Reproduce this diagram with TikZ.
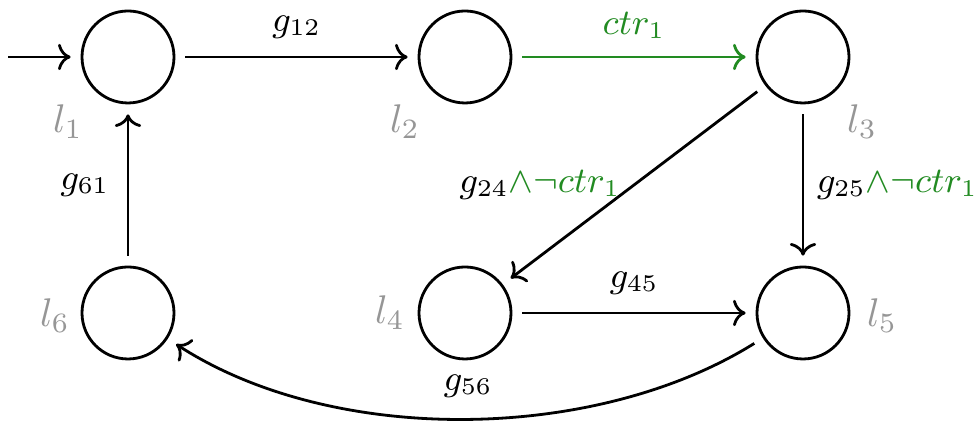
\documentclass[tikz,border=0pt]{standalone}
\usetikzlibrary{arrows.meta}
\definecolor{ctrgreen}{RGB}{34,139,34}
\definecolor{locgray}{RGB}{150,150,150}
\begin{document}
\begin{tikzpicture}[x=0.25pt,y=-0.25pt,
  every node/.style={font=\small},
  loc/.style={circle,draw,line width=0.7pt,minimum size=23pt,inner sep=0pt},
  edge/.style={->,line width=0.7pt,shorten >=2.5pt,shorten <=2.5pt},
  lname/.style={text=locgray,font=\normalsize},
  glabel/.style={}]
\useasboundingbox (0,0) rectangle (976,423);
\node[loc] (l1) at (128,57) {};
\node[loc] (l2) at (465,57) {};
\node[loc] (l3) at (803,57) {};
\node[loc] (l6) at (128,313) {};
\node[loc] (l4) at (465,313) {};
\node[loc] (l5) at (803,313) {};
\node[lname] (n1) at (68,122) {$l_1$};
\node[lname] (n2) at (405,122) {$l_2$};
\node[lname] (n3) at (862,122) {$l_3$};
\node[lname] (n6) at (55,316) {$l_6$};
\node[lname] (n4) at (390,313) {$l_4$};
\node[lname] (n5) at (882,316) {$l_5$};
\coordinate (init) at (8,57);
\draw[->,line width=0.7pt,shorten >=2.5pt] (init) -- (l1);
\draw[edge] (l1) -- node[glabel,above=1pt] {$g_{12}$} (l2);
\draw[edge,ctrgreen] (l2) -- node[glabel,above=1pt] {$ctr_1$} (l3);
\draw[edge] (l3) -- (l4);
\node[glabel] (lab24) at (540,185) {$g_{24}\textcolor{ctrgreen}{\wedge\neg ctr_1}$};
\draw[edge] (l3) -- (l5);
\node[glabel,anchor=west,inner sep=0pt] (lab25) at (816,185) {$g_{25}\textcolor{ctrgreen}{\wedge\neg ctr_1}$};
\draw[edge] (l4) -- node[glabel,above=1pt] {$g_{45}$} (l5);
\draw[edge] (l5) to[out=212,in=-33,looseness=0.85] (l6);
\node[glabel] (lab56) at (468,386) {$g_{56}$};
\draw[edge] (l6) -- node[glabel,left=1pt] {$g_{61}$} (l1);
\end{tikzpicture}
\end{document}
